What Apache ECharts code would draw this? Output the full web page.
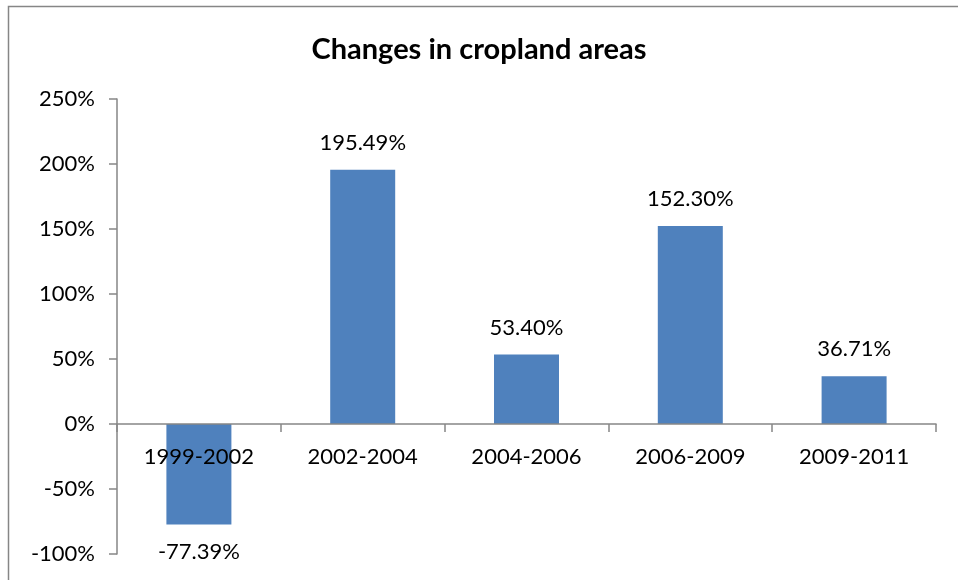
<!DOCTYPE html>
<html><head><meta charset="utf-8">
<script src="https://cdn.jsdelivr.net/npm/echarts@6/dist/echarts.min.js"></script>
<style>html,body{margin:0;padding:0;background:#fff}#c{width:958px;height:580px}</style>
</head><body><div id="c"></div>
<script>
const categories = ['1999-2002','2002-2004','2004-2006','2006-2009','2009-2011'];
const values = [-77.39, 195.49, 53.40, 152.30, 36.71];
const yTicks = {min: -100, max: 250, interval: 50};
const FONT = 'Lato';
const chart = echarts.init(document.getElementById('c'), null, {renderer:'canvas'});
chart.setOption({
  backgroundColor:'#fff',
  animation:false,
  title:{text:'Changes in cropland areas', left:'center', top:30,
    textStyle:{fontFamily:FONT, fontWeight:'bold', fontSize:29, color:'#000'}},
  graphic:[{type:'rect', shape:{x:8.5,y:6.5,width:1000,height:1000},
    style:{fill:'none', stroke:'#868686', lineWidth:1.5}, silent:true}],
  grid:{left:117, right:22, top:99, bottom:26, outerBoundsMode:'none', containLabel:false},
  xAxis:{type:'category', data:categories, z:5,
    axisLine:{onZero:true, lineStyle:{color:'#868686', width:1.5}},
    axisTick:{show:true, length:8, lineStyle:{color:'#868686', width:1.5}},
    axisLabel:{fontFamily:FONT, fontSize:22, color:'#000', margin:-108}},
  yAxis:{type:'value', min:yTicks.min, max:yTicks.max, interval:yTicks.interval,
    splitLine:{show:false},
    axisLine:{show:true, lineStyle:{color:'#868686', width:1.5}},
    axisTick:{show:true, length:8, lineStyle:{color:'#868686', width:1.5}},
    axisLabel:{fontFamily:FONT, fontSize:22, color:'#000', margin:22, formatter:'{value}%'}},
  series:[{type:'bar', barWidth:65, z:1,
    itemStyle:{color:'#4F81BD'},
    data: values.map(v => ({value:v, label:{position: v < 0 ? 'bottom' : 'top'}})),
    label:{show:true, fontFamily:FONT, fontSize:22, color:'#000', distance:16,
      formatter: p => p.value.toFixed(2) + '%'}}]
});
</script></body></html>
